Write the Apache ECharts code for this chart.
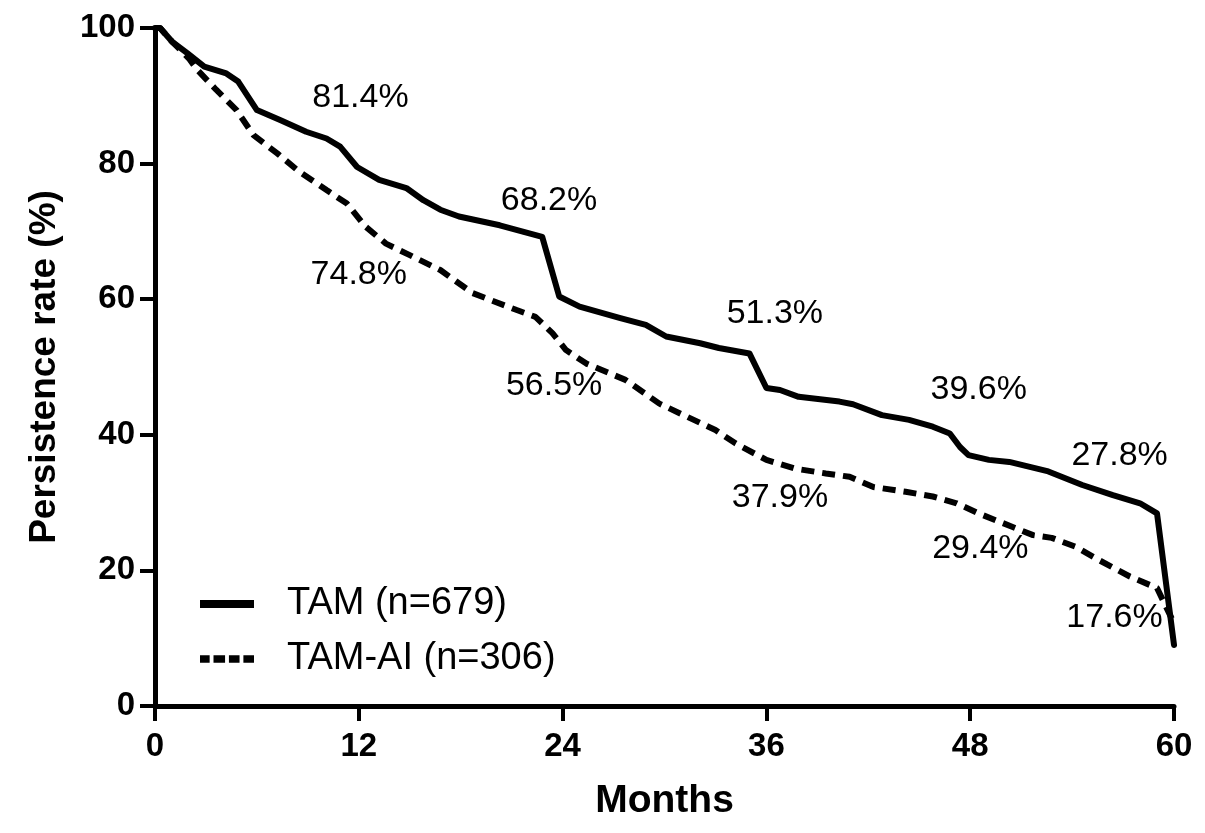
<!DOCTYPE html>
<html>
<head>
<meta charset="utf-8">
<script src="https://cdn.jsdelivr.net/npm/echarts@6/dist/echarts.min.js"></script>
<style>html,body{margin:0;padding:0;background:#fff}#c{width:1205px;height:833px}</style>
</head>
<body>
<div id="c"></div>
<script>
const xTicks = [0, 12, 24, 36, 48, 60];
const yTicks = [0, 20, 40, 60, 80, 100];

const tamMonths = [0, 0.3, 1, 1.9, 2.9, 4.2, 4.9, 6.0, 7.4, 8.9, 10.1, 10.9, 11.9, 13.2, 14.8, 15.8, 16.8, 17.9, 20.3, 22.8, 23.8, 25.0, 27.4, 28.9, 30.1, 32.1, 33.2, 35.0, 36.0, 36.8, 37.9, 40.3, 41.1, 42.8, 44.4, 45.8, 46.8, 47.4, 47.9, 49.1, 50.3, 52.6, 54.6, 56.4, 58.0, 59.0, 60];
const tamRate = [100, 100, 98.0, 96.3, 94.3, 93.3, 92.1, 87.9, 86.4, 84.7, 83.7, 82.5, 79.5, 77.6, 76.4, 74.6, 73.2, 72.2, 70.9, 69.2, 60.4, 58.9, 57.2, 56.2, 54.5, 53.5, 52.8, 52.0, 46.9, 46.6, 45.6, 44.9, 44.5, 42.9, 42.2, 41.2, 40.2, 38.2, 37.0, 36.3, 36.0, 34.6, 32.6, 31.1, 29.9, 28.4, 9.0];

const aiMonths = [0, 0.3, 1, 2.0, 2.5, 3.6, 4.8, 5.8, 7.2, 8.5, 10.1, 11.3, 12.4, 13.6, 15.0, 16.8, 18.7, 21.3, 22.4, 23.4, 24.2, 25.4, 27.7, 29.7, 31.3, 33.0, 34.2, 36.0, 37.7, 39.5, 40.9, 42.3, 44.2, 45.8, 47.2, 48.5, 50.5, 51.7, 52.8, 54.2, 55.6, 57.4, 59.0, 60];
const aiRate = [100, 100, 98.0, 95.5, 93.8, 90.9, 87.9, 84.2, 81.5, 78.8, 76.1, 74.1, 70.7, 68.2, 66.5, 64.3, 60.9, 58.4, 57.4, 55.0, 52.5, 50.5, 48.1, 44.6, 42.7, 40.7, 38.7, 36.3, 35.0, 34.3, 33.8, 32.3, 31.6, 30.9, 29.9, 28.4, 26.4, 25.2, 24.8, 23.5, 21.5, 19.1, 17.4, 12.2];

const labelTexts = ['81.4%', '74.8%', '68.2%', '56.5%', '51.3%', '37.9%', '39.6%', '29.4%', '27.8%', '17.6%'];
const labelMonths = [12.1, 12.0, 23.2, 23.5, 36.5, 36.8, 48.5, 48.6, 56.8, 56.5];
const labelRates = [89.7, 63.6, 74.5, 47.3, 57.8, 30.8, 46.6, 23.2, 37.0, 13.0];

const seriesNames = ['TAM (n=679)', 'TAM-AI (n=306)'];

const zip = (a, b) => a.map((v, i) => [v, b[i]]);
const FONT = 'Liberation Sans, Arial, Helvetica, sans-serif';

const chart = echarts.init(document.getElementById('c'));
chart.setOption({
  animation: false,
  backgroundColor: '#fff',
  grid: { left: 155, right: 31, top: 28, bottom: 127 },
  legend: {
    orient: 'vertical',
    left: 195,
    top: 580,
    itemGap: 17,
    itemWidth: 54,
    itemHeight: 8,
    data: [
      { name: seriesNames[0], icon: 'rect' },
      { name: seriesNames[1], icon: 'path://M0,0h10v8h-10z M14,0h12v8h-12z M30,0h11v8h-11z M45,0h11v8h-11z' }
    ],
    textStyle: { fontFamily: FONT, fontSize: 38, color: '#000', padding: [0, 0, 0, 28] }
  },
  xAxis: {
    type: 'value', min: 0, max: 60, interval: 12,
    name: 'Months', nameLocation: 'middle', nameGap: 76,
    nameTextStyle: { fontFamily: FONT, fontWeight: 'bold', fontSize: 39, color: '#000' },
    axisLine: { show: true, onZero: false, lineStyle: { color: '#000', width: 5 } },
    axisTick: { show: true, length: 15, lineStyle: { color: '#000', width: 4 } },
    axisLabel: { margin: 24, fontFamily: FONT, fontWeight: 'bold', fontSize: 33, color: '#000',
      formatter: v => xTicks.includes(v) ? String(v) : '' },
    splitLine: { show: false }
  },
  yAxis: {
    type: 'value', min: 0, max: 100, interval: 20,
    name: 'Persistence rate (%)', nameLocation: 'middle', nameGap: 92,
    nameTextStyle: { fontFamily: FONT, fontWeight: 'bold', fontSize: 37, color: '#000' },
    axisLine: { show: true, onZero: false, lineStyle: { color: '#000', width: 5 } },
    axisTick: { show: true, length: 15, lineStyle: { color: '#000', width: 4 } },
    axisLabel: { margin: 20, fontFamily: FONT, fontWeight: 'bold', fontSize: 33, color: '#000',
      formatter: v => yTicks.includes(v) ? String(v) : '' },
    splitLine: { show: false }
  },
  series: [
    {
      name: seriesNames[0], type: 'line', data: zip(tamMonths, tamRate),
      symbol: 'none', smooth: false, z: 3,
      itemStyle: { color: '#000' },
      lineStyle: { color: '#000', width: 6, join: 'round', cap: 'round' }
    },
    {
      name: seriesNames[1], type: 'line', data: zip(aiMonths, aiRate),
      symbol: 'none', smooth: false, z: 2,
      itemStyle: { color: '#000' },
      lineStyle: { color: '#000', width: 6, type: [13, 8] }
    },
    {
      name: 'labels', type: 'scatter', symbolSize: 0, silent: true,
      itemStyle: { opacity: 1, color: '#000' },
      data: labelMonths.map((m, i) => ({ value: [m, labelRates[i]], label: { formatter: labelTexts[i] } })),
      label: { show: true, position: 'inside', fontFamily: FONT, fontSize: 34, color: '#000', opacity: 1, textBorderWidth: 0 }
    }
  ]
});
</script>
</body>
</html>
